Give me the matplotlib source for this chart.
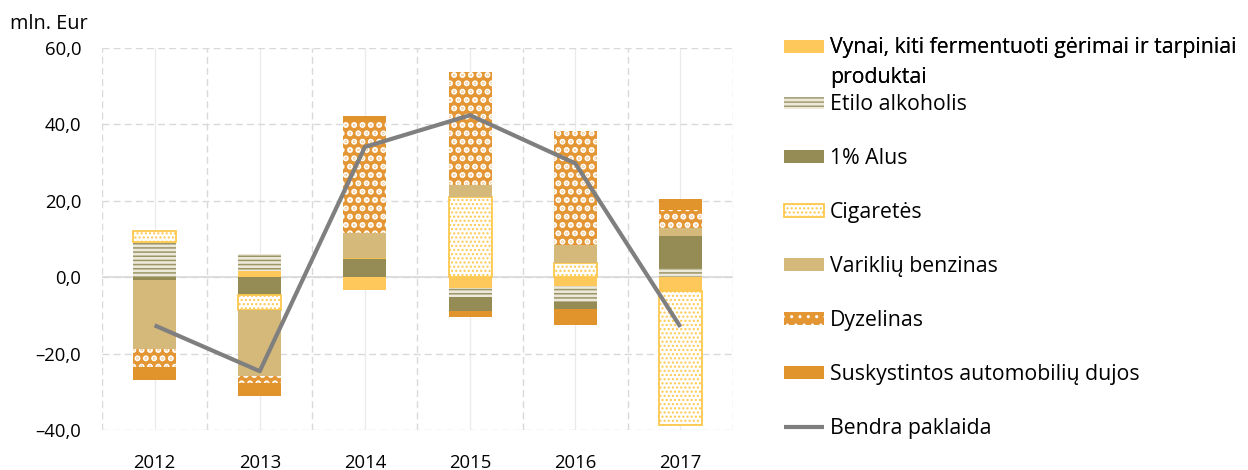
import numpy as np
import matplotlib
matplotlib.use("Agg")
import matplotlib.pyplot as plt
from matplotlib.patches import Rectangle, Patch
from matplotlib.legend_handler import HandlerPatch

plt.rcParams['font.family'] = ['Open Sans', 'DejaVu Sans']

years = ['2012', '2013', '2014', '2015', '2016', '2017']
series_names = [
    'Vynai, kiti fermentuoti gėrimai ir tarpiniai\nproduktai',
    'Etilo alkoholis',
    '1% Alus',
    'Cigaretės',
    'Variklių benzinas',
    'Dyzelinas',
    'Suskystintos automobilių dujos',
]
vynai = [0.0, 1.6, -3.4, -2.7, -2.4, -3.7]
etilo = [9.2, 4.5, 0.0, -2.5, -4.1, 2.5]
alus = [-0.8, -4.6, 5.0, -3.7, -1.7, 8.3]
cigaretes = [3.0, -3.9, 0.0, 21.0, 3.6, -35.0]
benzinas = [-18.1, -17.3, 6.6, 3.1, 4.8, 2.1]
dyzelinas = [-4.6, -2.0, 29.3, 29.5, 29.9, 4.8]
dujos = [-3.3, -3.4, 1.2, -1.5, -4.4, 2.9]
bendra = [-12.6, -24.6, 34.1, 42.4, 29.8, -13.0]
line_name = 'Bendra paklaida'
yticks = [-40, -20, 0, 20, 40, 60]
ytick_labels = ['–40,0', '–20,0', '0,0', '20,0', '40,0', '60,0']
y_unit = 'mln. Eur'

styles = [
    dict(facecolor='#FEC85A', edgecolor='#FEC85A', linewidth=0.0, hatch=None, hlw=1.0),
    dict(facecolor='#ECE9DA', edgecolor='#9C9566', linewidth=0.0, hatch='----', hlw=1.1),
    dict(facecolor='#958B55', edgecolor='#958B55', linewidth=0.0, hatch=None, hlw=1.0),
    dict(facecolor='#FFFFFF', edgecolor='#FDC84E', linewidth=1.3, hatch='....', hlw=1.0),
    dict(facecolor='#D5B97B', edgecolor='#D5B97B', linewidth=0.0, hatch=None, hlw=1.0),
    dict(facecolor='#E39633', edgecolor='#FFFFFF', linewidth=0.0, hatch='..', hlw=3.0),
    dict(facecolor='#E2942C', edgecolor='#E2942C', linewidth=0.0, hatch=None, hlw=1.0),
]

data = [vynai, etilo, alus, cigaretes, benzinas, dyzelinas, dujos]

fig = plt.figure(figsize=(12.48, 4.70), dpi=100)
ax = fig.add_axes([102/1248, 1-430/470, (733-102)/1248, (430-48)/470])

x = np.arange(len(years))
pos_base = np.zeros(len(years))
neg_base = np.zeros(len(years))
bar_w = 0.41
handles = []
for vals, st, name in zip(data, styles, series_names):
    v = np.array(vals, dtype=float)
    bottoms = np.where(v >= 0, pos_base, neg_base)
    with plt.rc_context({'hatch.linewidth': st['hlw']}):
        bars = ax.bar(x, v, bar_w, bottom=bottoms, facecolor=st['facecolor'],
                      edgecolor=st['edgecolor'], linewidth=st['linewidth'],
                      hatch=st['hatch'], zorder=3)
        for b in bars:
            if hasattr(b, 'set_hatch_linewidth'):
                b.set_hatch_linewidth(st['hlw'])
        h = Patch(facecolor=st['facecolor'], edgecolor=st['edgecolor'],
                  linewidth=st['linewidth'], hatch=st['hatch'], label=name)
        if hasattr(h, 'set_hatch_linewidth'):
            h.set_hatch_linewidth(st['hlw'])
    handles.append(h)
    pos_base = pos_base + np.where(v >= 0, v, 0)
    neg_base = neg_base + np.where(v < 0, v, 0)

line, = ax.plot(x, bendra, color='#7F7F7F', linewidth=3.0, zorder=5,
                solid_capstyle='butt', label=line_name)

ax.set_xlim(-0.5, len(years) - 0.5)
ax.set_ylim(-40, 60)
ax.set_yticks(yticks)
ax.set_yticklabels(ytick_labels)
ax.set_xticks(x)
ax.set_xticklabels(years)
ax.set_xticks(np.arange(-0.5, len(years), 1.0), minor=True)
ax.tick_params(axis='both', which='both', length=0, labelsize=13.3, colors='#000000')
ax.tick_params(axis='y', pad=15)
ax.tick_params(axis='x', pad=17)
for s in ax.spines.values():
    s.set_visible(False)
ax.grid(axis='y', which='major', linestyle=(0, (5, 3)), color='#D9D9D9', linewidth=1.0, zorder=0)
ax.grid(axis='x', which='minor', linestyle=(0, (5, 3)), color='#D9D9D9', linewidth=1.0, zorder=0)
ax.grid(axis='x', which='major', linestyle='-', color='#EBEBEB', linewidth=1.0, zorder=0)
ax.axhline(0, color='#D9D9D9', linewidth=1.2, zorder=1)
ax.set_axisbelow(True)

fig.text(10/1248, 1-24/470, y_unit, fontsize=14.3, va='center', ha='left')

fs = 15.3

def shifted_patch(legend, orig_handle, xdescent, ydescent, width, height, fontsize):
    return Rectangle((-xdescent, -ydescent + 0.78 * fontsize), width, height)

common = dict(loc='upper left', frameon=False, fontsize=fs, borderpad=0, borderaxespad=0,
              handlelength=1.88, handleheight=0.56, handletextpad=0.28)

legA = fig.legend([handles[0]], [series_names[0]],
                  bbox_to_anchor=(784/1248, 1-36.5/470),
                  handler_map={handles[0]: HandlerPatch(patch_func=shifted_patch)},
                  **common)
for t in legA.get_texts():
    t.set_linespacing(1.6)
fig.add_artist(legA)

legB = fig.legend(handles[1:] + [line], series_names[1:] + [line_name],
                  bbox_to_anchor=(784/1248, 1-94.5/470), labelspacing=1.55, **common)

fig.savefig('out.png', dpi=100)
